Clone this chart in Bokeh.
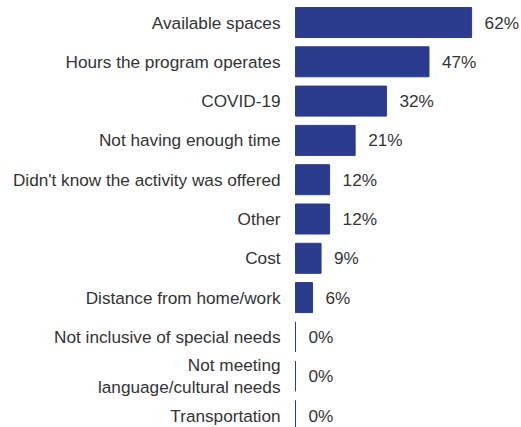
from bokeh.plotting import figure
from bokeh.models import Range1d, ColumnDataSource
from bokeh.core.properties import value
from bokeh.embed import file_html
from bokeh.resources import INLINE

categories = [
    "Available spaces",
    "Hours the program operates",
    "COVID-19",
    "Not having enough time",
    "Didn't know the activity was offered",
    "Other",
    "Cost",
    "Distance from home/work",
    "Not inclusive of special needs",
    "Not meeting\nlanguage/cultural needs",
    "Transportation",
]
values = [62, 47, 32, 21, 12, 12, 9, 6, 0, 0, 0]

W, H = 521, 427
x0 = 295.0        # pixel x of zero line inside figure
scale = 2.84      # px per percent
top = 22.0        # center of first bar
pitch = 39.3

ypos = list(range(len(categories)))
src = ColumnDataSource(dict(
    y=ypos, v=values, cat=categories,
    lab=[f"{v}%" for v in values],
))

p = figure(width=W, height=H, output_backend="svg", toolbar_location=None,
           x_range=Range1d(-x0 / scale, (W - x0) / scale),
           y_range=Range1d((H - top) / pitch, -top / pitch),
           min_border=0, min_border_left=0, min_border_right=0,
           min_border_top=0, min_border_bottom=0)
p.outline_line_color = None
p.axis.visible = False
p.grid.visible = False
p.background_fill_color = "white"
p.border_fill_color = "white"

color = "#2b3b8d"
p.hbar(y="y", left=0, right="v", height=30 / pitch, source=src,
       fill_color=color, line_color=color, line_width=1)

font = value("Liberation Sans")
p.text(x=0, y="y", text="cat", source=src, x_offset=-15,
       text_align="right", text_baseline="middle", text_font=font,
       text_font_size="17.2px", text_color="#333333", text_line_height=1.1)
p.text(x="v", y="y", text="lab", source=src, x_offset=13,
       text_align="left", text_baseline="middle", text_font=font,
       text_font_size="17.2px", text_color="#333333")

open("out.html", "w").write(file_html(p, INLINE))
